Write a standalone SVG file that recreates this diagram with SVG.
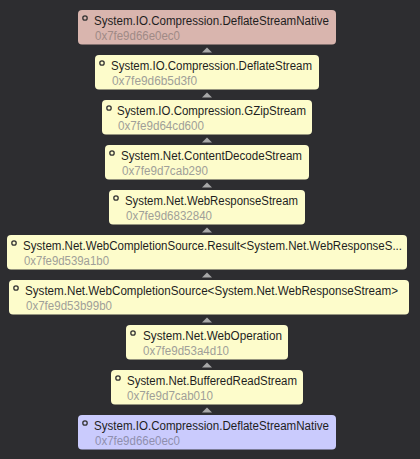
<svg xmlns="http://www.w3.org/2000/svg" width="420" height="459" viewBox="0 0 420 459">
<style>
.bg{fill:#2d2d30}
.n rect{fill:#fdfccb}
.n.root rect{fill:#d9b5ae}
.n.sel rect{fill:#cacbfd}
.n circle{fill:none;stroke:#333;stroke-width:1.3}
.t{font-family:"Liberation Sans","Noto Sans",sans-serif;font-size:12px;fill:#1e1e1e}
.a{font-family:"Liberation Sans","Noto Sans",sans-serif;font-size:12px;fill:#a09f98}
.root .a{fill:#a08a86}
.sel .a{fill:#8f8fae}
.c path{fill:#a8a8a8}
</style>
<rect class="bg" x="0" y="0" width="420" height="459"/>
<g class="c" id="connectors">
<path d="M207 47.5 L212 52.5 L202 52.5 Z"/>
<path d="M207 92.5 L212 97.5 L202 97.5 Z"/>
<path d="M207 137.5 L212 142.5 L202 142.5 Z"/>
<path d="M207 182.5 L212 187.5 L202 187.5 Z"/>
<path d="M207 227.5 L212 232.5 L202 232.5 Z"/>
<path d="M207 272.5 L212 277.5 L202 277.5 Z"/>
<path d="M207 317.5 L212 322.5 L202 322.5 Z"/>
<path d="M207 362.5 L212 367.5 L202 367.5 Z"/>
<path d="M207 407.5 L212 412.5 L202 412.5 Z"/>
</g>
<g class="n root" id="n1"><rect x="78" y="10" width="258" height="34.5" rx="4"/><circle cx="85" cy="18" r="2.2"/><text class="t" x="94" y="25" textLength="235" lengthAdjust="spacingAndGlyphs">System.IO.Compression.DeflateStreamNative</text><text class="a" x="95" y="39.5" textLength="85" lengthAdjust="spacingAndGlyphs">0x7fe9d66e0ec0</text></g>
<g class="n" id="n2"><rect x="95" y="55" width="224" height="34.5" rx="4"/><circle cx="102" cy="63" r="2.2"/><text class="t" x="111" y="70" textLength="201" lengthAdjust="spacingAndGlyphs">System.IO.Compression.DeflateStream</text><text class="a" x="112" y="84.5" textLength="85" lengthAdjust="spacingAndGlyphs">0x7fe9d6b5d3f0</text></g>
<g class="n" id="n3"><rect x="102" y="100" width="210" height="34.5" rx="4"/><circle cx="109" cy="108" r="2.2"/><text class="t" x="117" y="115" textLength="189" lengthAdjust="spacingAndGlyphs">System.IO.Compression.GZipStream</text><text class="a" x="118" y="129.5" textLength="86" lengthAdjust="spacingAndGlyphs">0x7fe9d64cd600</text></g>
<g class="n" id="n4"><rect x="105" y="145" width="204" height="34.5" rx="4"/><circle cx="112" cy="153" r="2.2"/><text class="t" x="121" y="160" textLength="181" lengthAdjust="spacingAndGlyphs">System.Net.ContentDecodeStream</text><text class="a" x="122" y="174.5" textLength="86" lengthAdjust="spacingAndGlyphs">0x7fe9d7cab290</text></g>
<g class="n" id="n5"><rect x="109" y="190" width="196" height="34.5" rx="4"/><circle cx="116" cy="198" r="2.2"/><text class="t" x="125" y="205" textLength="173" lengthAdjust="spacingAndGlyphs">System.Net.WebResponseStream</text><text class="a" x="126" y="219.5" textLength="86" lengthAdjust="spacingAndGlyphs">0x7fe9d6832840</text></g>
<g class="n" id="n6"><rect x="7" y="235" width="400" height="34.5" rx="4"/><circle cx="14" cy="243" r="2.2"/><text class="t" x="23" y="250" textLength="379" lengthAdjust="spacingAndGlyphs">System.Net.WebCompletionSource.Result&lt;System.Net.WebResponseS...</text><text class="a" x="24" y="264.5" textLength="85" lengthAdjust="spacingAndGlyphs">0x7fe9d539a1b0</text></g>
<g class="n" id="n7"><rect x="9" y="280" width="400" height="34.5" rx="4"/><circle cx="16" cy="288" r="2.2"/><text class="t" x="25" y="295" textLength="373" lengthAdjust="spacingAndGlyphs">System.Net.WebCompletionSource&lt;System.Net.WebResponseStream&gt;</text><text class="a" x="26" y="309.5" textLength="86" lengthAdjust="spacingAndGlyphs">0x7fe9d53b99b0</text></g>
<g class="n" id="n8"><rect x="126" y="325" width="162" height="34.5" rx="4"/><circle cx="133" cy="333" r="2.2"/><text class="t" x="143" y="340" textLength="139" lengthAdjust="spacingAndGlyphs">System.Net.WebOperation</text><text class="a" x="143" y="354.5" textLength="86" lengthAdjust="spacingAndGlyphs">0x7fe9d53a4d10</text></g>
<g class="n" id="n9"><rect x="111" y="370" width="192" height="34.5" rx="4"/><circle cx="118" cy="378" r="2.2"/><text class="t" x="127" y="385" textLength="170" lengthAdjust="spacingAndGlyphs">System.Net.BufferedReadStream</text><text class="a" x="127" y="399.5" textLength="86" lengthAdjust="spacingAndGlyphs">0x7fe9d7cab010</text></g>
<g class="n sel" id="n10"><rect x="78" y="415" width="258" height="34.5" rx="4"/><circle cx="85" cy="423" r="2.2"/><text class="t" x="94" y="430" textLength="235" lengthAdjust="spacingAndGlyphs">System.IO.Compression.DeflateStreamNative</text><text class="a" x="95" y="444.5" textLength="85" lengthAdjust="spacingAndGlyphs">0x7fe9d66e0ec0</text></g>
</svg>
